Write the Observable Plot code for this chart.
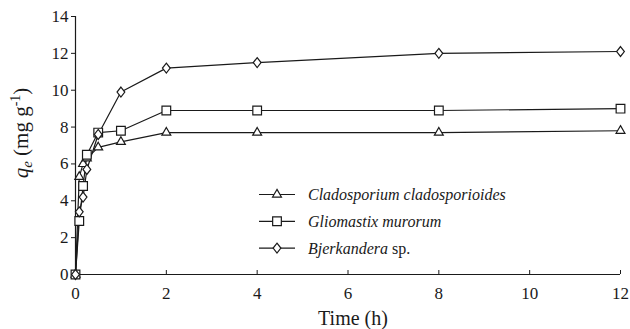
<!DOCTYPE html>
<html><head><meta charset="utf-8">
<script src="https://cdn.jsdelivr.net/npm/d3@7"></script>
<script src="https://cdn.jsdelivr.net/npm/@observablehq/plot@0.6"></script>
<style>body{margin:0;background:#fff}</style>
</head><body><div id="chart"></div>
<script>
// time in hours
const times = [0, 0.083, 0.167, 0.25, 0.5, 1, 2, 4, 8, 12];
const cladosporium = [0, 5.3, 6.0, 6.3, 6.9, 7.2, 7.7, 7.7, 7.7, 7.8];
const gliomastix   = [0, 2.9, 4.8, 6.5, 7.7, 7.8, 8.9, 8.9, 8.9, 9.0];
const bjerkandera  = [0, 3.4, 4.2, 5.7, 7.6, 9.9, 11.2, 11.5, 12.0, 12.1];
const seriesNames = ["Cladosporium cladosporioides", "Gliomastix murorum", "Bjerkandera"];
const seriesSuffix = ["", "", "sp."];
const xTicks = [0, 2, 4, 6, 8, 10, 12];
const yTicks = [0, 2, 4, 6, 8, 10, 12, 14];
const xLabel = "Time (h)";

const diamondTall = {
  draw(ctx, size) {
    const a = Math.sqrt(size / 1.56), b = a * 0.78;
    ctx.moveTo(0, -a); ctx.lineTo(b, 0); ctx.lineTo(0, a); ctx.lineTo(-b, 0); ctx.closePath();
  }
};
const seriesValues = [cladosporium, gliomastix, bjerkandera];
const seriesSymbols = [d3.symbolTriangle, d3.symbolSquare, diamondTall];
const seriesR = [3.3, 4.9, 3.5];
const ink = "#1a1a1a";
const serif = "Liberation Serif";

const data = seriesValues.map((vals, i) => times.map((t, j) => ({t, q: vals[j], series: seriesNames[i]})));

const plot = Plot.plot({
  width: 630, height: 329,
  marginLeft: 75, marginRight: 10, marginTop: 16, marginBottom: 55,
  style: {fontFamily: serif, fontSize: "17px", background: "white", color: ink},
  x: {domain: [0, 12]},
  y: {domain: [0, 14]},
  marks: [
    Plot.axisX({ticks: xTicks, tickSize: -4, tickPadding: 16, label: null, tickFormat: d => d, fontSize: 17}),
    Plot.axisY({ticks: yTicks, tickSize: 4, tickPadding: 3, label: null, tickFormat: d => d, fontSize: 17}),
    Plot.ruleX([0], {stroke: ink, strokeWidth: 1.2}),
    Plot.ruleY([0], {stroke: ink, strokeWidth: 1.2}),
    ...data.map(d => Plot.line(d, {x: "t", y: "q", stroke: ink, strokeWidth: 1.2})),
    ...data.map((d, i) => Plot.dot(d, {x: "t", y: "q", symbol: seriesSymbols[i], r: seriesR[i], stroke: ink, fill: "white", strokeWidth: 1.2}))
  ]
});

const svg = d3.select(plot);
svg.style("font-family", serif);
svg.selectAll("g, text").style("font-family", serif);
// y-axis title
const yt = svg.append("text")
  .attr("transform", "translate(28,133) rotate(-90)")
  .attr("text-anchor", "middle")
  .style("font-family", serif)
  .attr("font-size", 21).attr("fill", ink);
yt.append("tspan").attr("font-style", "italic").text("q");
yt.append("tspan").attr("font-style", "italic").attr("font-size", 15).attr("dy", 4).text("e");
yt.append("tspan").attr("dy", -4).text(" (mg g");
yt.append("tspan").attr("font-size", 14).attr("dy", -8).text("-1");
yt.append("tspan").attr("dy", 8).text(")");
// x-axis title
svg.append("text")
  .attr("x", 353).attr("y", 325)
  .attr("text-anchor", "middle")
  .style("font-family", serif)
  .attr("font-size", 20).attr("fill", ink)
  .text(xLabel);
// legend
const leg = svg.append("g").style("font-family", serif).attr("font-size", 16).attr("fill", ink).attr("text-anchor", "start");
seriesNames.forEach((name, i) => {
  const y = 194.5 + i * 26.8;
  leg.append("line").attr("x1", 259).attr("x2", 295).attr("y1", y).attr("y2", y).attr("stroke", ink).attr("stroke-width", 1.2);
  leg.append("path").attr("d", d3.symbol(seriesSymbols[i], seriesR[i] * seriesR[i] * Math.PI)())
    .attr("transform", `translate(277,${y})`).attr("fill", "white").attr("stroke", ink).attr("stroke-width", 1.2);
  const t = leg.append("text").attr("x", 308).attr("y", y).attr("dy", "0.35em").attr("text-anchor", "start");
  t.append("tspan").attr("font-style", "italic").text(name);
  if (seriesSuffix[i]) t.append("tspan").text(" " + seriesSuffix[i]);
});

document.getElementById("chart").append(plot);
</script>
</body></html>
